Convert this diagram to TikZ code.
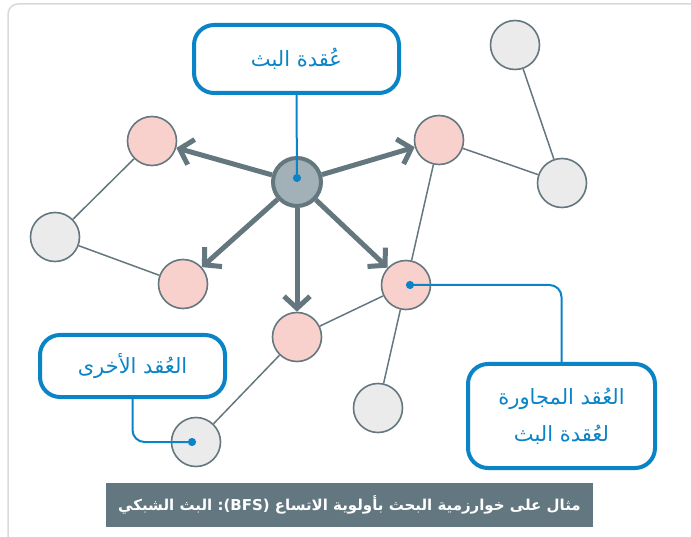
\documentclass[tikz,border=0pt]{standalone}
\usepackage{fontspec}
\usepackage{tikz}
\usetikzlibrary{arrows.meta,positioning}
\newfontfamily\arabicfont[Script=Arabic]{DejaVu Sans}
\newfontfamily\latinfont{DejaVu Sans}
\TeXXeTstate=1
\definecolor{BfsBlue}{HTML}{0A84C6}
\definecolor{BfsSlate}{HTML}{64777F}
\definecolor{BfsPink}{HTML}{F9D1CC}
\definecolor{BfsLight}{HTML}{EBEBEB}
\definecolor{BfsSource}{HTML}{A2B0B8}
\definecolor{BfsFrame}{HTML}{DDD8D6}
\definecolor{BfsBar}{HTML}{627780}
\tikzset{
  vertex/.style={circle, minimum size=49pt, inner sep=0pt, draw=BfsSlate,
                 line width=1.6pt},
  srcnode/.style={vertex, fill=BfsSource, line width=4pt, minimum size=48pt},
  nbrnode/.style={vertex, fill=BfsPink},
  othernode/.style={vertex, fill=BfsLight},
  link/.style={draw=BfsSlate, line width=1.5pt},
  bfsarrow/.style={draw=BfsSlate, line width=5pt,
                   -{Straight Barb[length=12pt, width=26pt]}},
  callout/.style={draw=BfsBlue, line width=4pt, fill=white, rounded corners=20pt,
                  align=center, text=BfsBlue,
                  font=\arabicfont\fontsize{21}{37}\selectfont},
  calloutline/.style={draw=BfsBlue, line width=2pt, -{Circle[length=8pt]}},
  caption/.style={fill=BfsBar, text=white, minimum width=487pt, minimum height=44pt,
                  font=\arabicfont\bfseries\fontsize{15}{18}\selectfont}
}
\begin{document}
\begin{tikzpicture}[x=1pt, y=-1pt]
  \useasboundingbox (0,0) rectangle (691,537);
  % frame
  \draw[BfsFrame, line width=1.5pt, rounded corners=10pt] (8,560) -- (8,4) -- (720,4);
  % graph nodes
  \node[srcnode] (src) at (297,182) {};
  \node[nbrnode] (nA) at (152,141) {};
  \node[nbrnode] (nB) at (183,284) {};
  \node[nbrnode] (nC) at (297,337) {};
  \node[nbrnode] (nD) at (406,285) {};
  \node[nbrnode] (nE) at (439,140) {};
  \node[othernode] (oF) at (55,237) {};
  \node[othernode] (oG) at (515,45) {};
  \node[othernode] (oH) at (562,183) {};
  \node[othernode] (oI) at (378,408) {};
  \node[othernode] (oJ) at (196,442) {};
  % plain edges
  \draw[link] (oF) -- (nA);
  \draw[link] (oF) -- (nB);
  \draw[link] (nE) -- (oH);
  \draw[link] (oH) -- (oG);
  \draw[link] (nE) -- (nD);
  \draw[link] (nD) -- (nC);
  \draw[link] (nD) -- (oI);
  \draw[link] (nC) -- (oJ);
  % broadcast arrows
  \foreach \t in {nA,nB,nC,nD,nE}
    \draw[bfsarrow] (src) -- (\t);
  % callouts
  \node[callout, minimum width=205pt, minimum height=68pt] (srcbox) at (296.5,59)
    {\beginR عُقدة البث\endR};
  \node[callout, minimum width=185pt, minimum height=62pt] (otherbox) at (132.5,366)
    {\beginR العُقد الأخرى\endR};
  \node[callout, minimum width=187pt, minimum height=104pt] (nbrbox) at (561.5,416)
    {\beginR العُقد المجاورة\endR\\\beginR لعُقدة البث\endR};
  \draw[calloutline] (srcbox.south) -- (src.center);
  \draw[calloutline, rounded corners=12pt] (otherbox.south) |- (oJ.center);
  \draw[calloutline, rounded corners=12pt] (nbrbox.north) |- (nD.center);
  % caption
  \node[caption] (title) at (349.5,505)
    {\beginR مثال على خوارزمية البحث بأولوية الاتساع \beginL{\latinfont(BFS)}\endL: البث الشبكي\endR};
\end{tikzpicture}
\end{document}
